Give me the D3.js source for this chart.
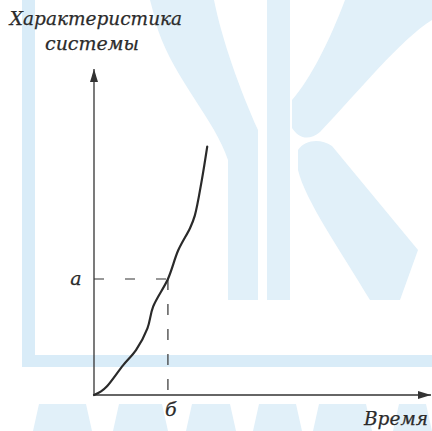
<!DOCTYPE html>
<html><head><meta charset="utf-8">
<script src="https://cdn.jsdelivr.net/npm/d3@7"></script>
<style>
html,body{margin:0;padding:0;background:#fff;}
svg{display:block;}
text{font-family:"DejaVu Serif",serif;font-style:italic;fill:#2b2b2b;stroke:#2b2b2b;stroke-width:0.25;}
</style></head><body>
<svg id="c" width="432" height="431"></svg>
<script>
// ---- data ----
const timeValues = [0, 0.21, 0.38, 0.87, 1.25, 1.59, 1.76, 2.20, 2.51, 2.86, 3.00, 3.21, 3.37];
const charValues = [0, 0.11, 0.26, 0.92, 1.38, 2.05, 2.72, 3.57, 4.46, 5.14, 5.52, 6.62, 7.64];
const markA = 3.57;   // level "а"
const markB = 2.20;   // time "б"
const yTitle = ["Характеристика", "системы"];
const xTitle = "Время";
const tickLabels = ["а", "б"];

const svg = d3.select("#c");
const x = d3.scaleLinear().domain([0, 10]).range([94, 430]);
const y = d3.scaleLinear().domain([0, 10]).range([395, 70]);

// ---- watermark (faint background decoration) ----
const wm = svg.append("g").attr("fill", "#e1f0f9");
wm.append("rect").attr("x", 22).attr("y", 0).attr("width", 13).attr("height", 367).attr("fill", "#d9ecf8");
wm.append("rect").attr("x", 22).attr("y", 355).attr("width", 410).attr("height", 12).attr("fill", "#d9ecf8");
wm.append("path").attr("d", "M150,0 L214,0 C222,40 240,90 258,130 L258,300 L228,300 L228,160 C215,120 175,80 158,30 Z");
wm.append("rect").attr("x", 267).attr("y", 0).attr("width", 23).attr("height", 300);
wm.append("path").attr("d", "M292,128 C300,140 310,140 320,132 C360,90 400,40 432,20 L432,0 L345,0 C330,40 310,80 292,100 Z");
wm.append("path").attr("d", "M298,150 C305,140 320,138 332,146 L418,250 L400,300 L370,300 C340,250 305,200 298,170 Z");
const bottomBlocks = [[33,92],[113,168],[186,236],[253,302],[313,372],[393,432]];
bottomBlocks.forEach(b => {
  wm.append("path").attr("d", `M${b[0]+6},404 L${b[1]-6},404 L${b[1]},431 L${b[0]},431 Z`);
});

// ---- arrows ----
const defs = svg.append("defs");
defs.append("marker").attr("id", "arr").attr("viewBox", "0 0 13 8")
  .attr("refX", 13).attr("refY", 4).attr("markerWidth", 13).attr("markerHeight", 8)
  .attr("markerUnits", "userSpaceOnUse").attr("orient", "auto")
  .append("path").attr("d", "M0,0 L13,4 L0,8 Z").attr("fill", "#333");

// axes
svg.append("line").attr("x1", x(0)).attr("y1", y(0)).attr("x2", x(0)).attr("y2", y(10) - 1)
  .attr("stroke", "#333").attr("stroke-width", 1.3).attr("marker-end", "url(#arr)");
svg.append("line").attr("x1", x(0)).attr("y1", y(0)).attr("x2", x(10) + 1).attr("y2", y(0))
  .attr("stroke", "#333").attr("stroke-width", 1.3).attr("marker-end", "url(#arr)");

// dashed guides
svg.append("line").attr("x1", x(0)).attr("y1", y(markA)).attr("x2", x(markB)).attr("y2", y(markA))
  .attr("stroke", "#333").attr("stroke-width", 1.2).attr("stroke-dasharray", "10,21");
svg.append("line").attr("x1", x(markB)).attr("y1", y(markA)).attr("x2", x(markB)).attr("y2", y(0))
  .attr("stroke", "#333").attr("stroke-width", 1.2).attr("stroke-dasharray", "11,14");

// curve
const pts = timeValues.map((t, i) => [t, charValues[i]]);
svg.append("path").datum(pts)
  .attr("d", d3.line().x(d => x(d[0])).y(d => y(d[1])).curve(d3.curveCatmullRom.alpha(0.5)))
  .attr("fill", "none").attr("stroke", "#2a2a2a").attr("stroke-width", 2.2)
  .attr("stroke-linejoin", "round").attr("stroke-linecap", "round");

// labels
svg.append("text").attr("x", 96).attr("y", 25).attr("text-anchor", "middle")
  .attr("font-size", 18.5).text(yTitle[0]);
svg.append("text").attr("x", 92).attr("y", 50).attr("text-anchor", "middle")
  .attr("font-size", 19).text(yTitle[1]);
svg.append("text").attr("x", 428).attr("y", 425).attr("text-anchor", "end")
  .attr("font-size", 18.5).text(xTitle);
svg.append("text").attr("x", x(0) - 18).attr("y", y(markA) + 6).attr("text-anchor", "middle")
  .attr("font-size", 19).text(tickLabels[0]);
svg.append("text").attr("x", x(markB) + 3).attr("y", 416).attr("text-anchor", "middle")
  .attr("font-size", 19).text(tickLabels[1]);
</script></body></html>
